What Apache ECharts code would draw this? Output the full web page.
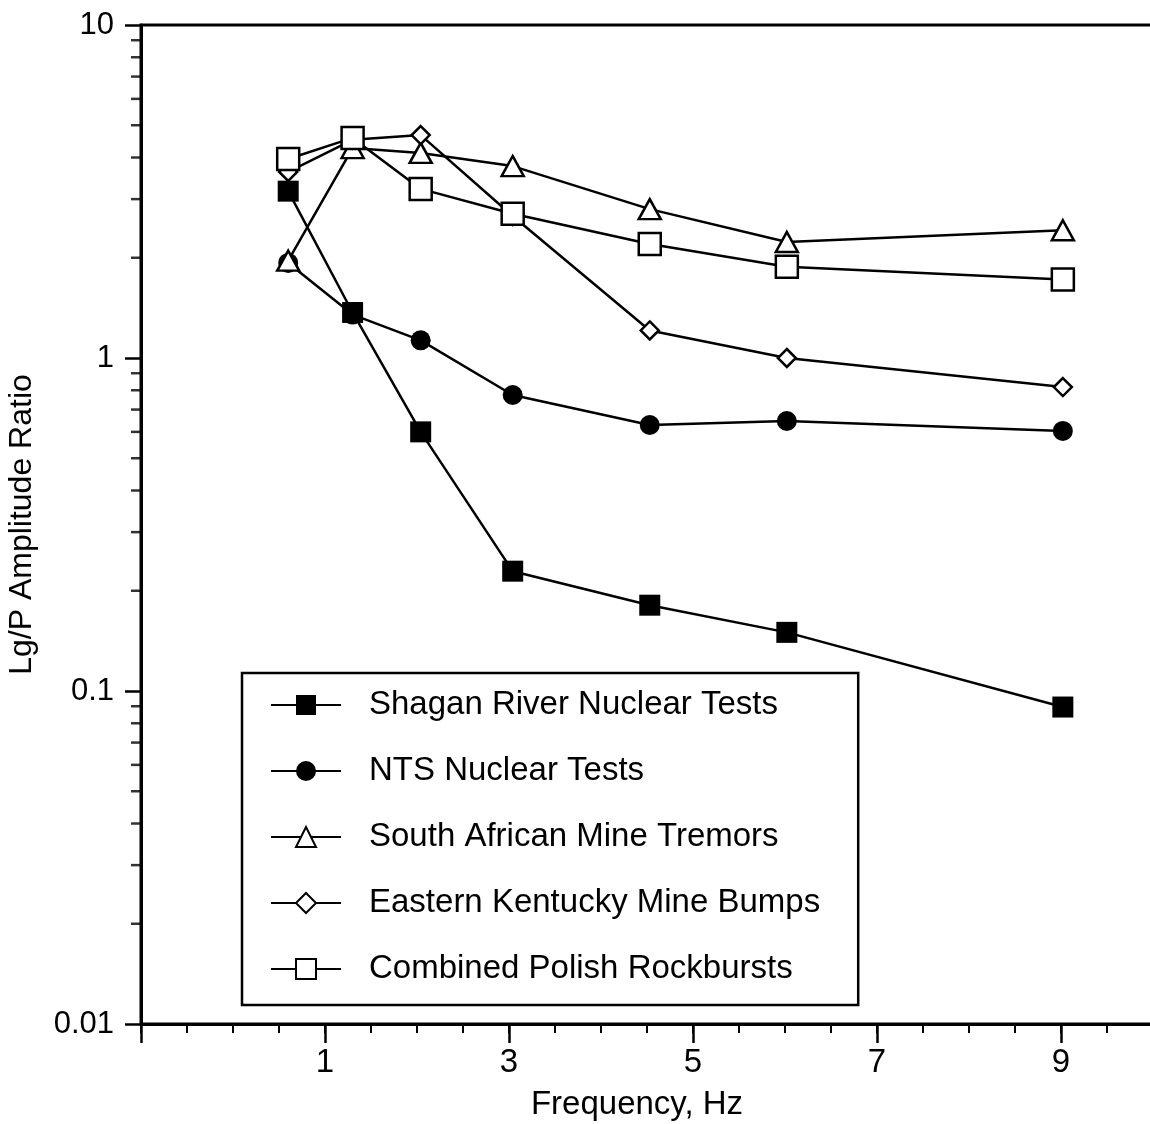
<!DOCTYPE html>
<html>
<head>
<meta charset="utf-8">
<script src="https://cdn.jsdelivr.net/npm/echarts@6/dist/echarts.min.js"></script>
<style>
  html, body { margin: 0; padding: 0; background: #fff; }
  #chart { width: 1150px; height: 1124px; }
</style>
</head>
<body>
<div id="chart"></div>
<script>
// frequencies (Hz)
var freqs = [0.6, 1.3, 2.04, 3.04, 4.53, 6.02, 9.02];

var shagan   = [3.17, 1.37, 0.60, 0.229, 0.181, 0.150, 0.0895];
var nts      = [1.93, 1.35, 1.13, 0.774, 0.629, 0.647, 0.604];
var safrica  = [1.96, 4.27, 4.13, 3.77, 2.80, 2.23, 2.42];
var kentucky = [3.62, 4.52, 4.67, 2.67, 1.21, 1.00, 0.818];
var polish   = [3.96, 4.58, 3.22, 2.71, 2.20, 1.88, 1.72];

var seriesNames = [
  'Shagan River Nuclear Tests',
  'NTS Nuclear Tests',
  'South African Mine Tremors',
  'Eastern Kentucky Mine Bumps',
  'Combined Polish Rockbursts'
];

var xLabels = [1, 3, 5, 7, 9];
var yMinorTicks = [0.02, 0.03, 0.04, 0.05, 0.06, 0.07, 0.08, 0.09,
                   0.2, 0.3, 0.4, 0.5, 0.6, 0.7, 0.8, 0.9,
                   2, 3, 4, 5, 6, 7, 8, 9];

function pairs(ys) {
  return freqs.map(function (f, i) { return [f, ys[i]]; });
}

var font = 'Liberation Sans';
var chart = echarts.init(document.getElementById('chart'));

function lineSeries(name, ys, symbol, size, fill) {
  return {
    name: name,
    type: 'line',
    data: pairs(ys),
    symbol: symbol,
    symbolSize: size,
    showAllSymbol: true,
    lineStyle: { color: '#000', width: 2.5 },
    itemStyle: { color: fill, borderColor: '#000', borderWidth: fill === '#000' ? 0 : 2.5 },
    emphasis: { disabled: true },
    z: 3
  };
}

var option = {
  backgroundColor: '#fff',
  animation: false,
  grid: {
    left: 141, top: 25, width: 1012, height: 999,
    outerBoundsMode: 'none',
    show: true, borderColor: '#000', borderWidth: 3
  },
  legend: {
    data: seriesNames,
    orient: 'vertical',
    left: 242, top: 673,
    padding: [14, 38, 18, 28],
    itemWidth: 70, itemHeight: 25, itemGap: 30,
    borderColor: '#000', borderWidth: 2.5,
    textStyle: { fontFamily: font, fontSize: 33, color: '#000', lineHeight: 36, padding: [0, 0, 0, 23] }
  },
  xAxis: [{
    type: 'value', min: -1, max: 10, interval: 0.5, position: 'bottom',
    axisLine: { onZero: false, lineStyle: { color: '#000', width: 3 } },
    axisTick: { length: 9, lineStyle: { color: '#000', width: 2 } },
    axisLabel: { show: false },
    splitLine: { show: false },
    name: 'Frequency, Hz', nameLocation: 'middle', nameGap: 64,
    nameTextStyle: { fontFamily: font, fontSize: 33, color: '#000', padding: [0, 20, 0, 0] }
  }, {
    type: 'value', min: -1, max: 10, interval: 2, position: 'bottom',
    axisLine: { show: false, onZero: false },
    axisTick: { length: 19, lineStyle: { color: '#000', width: 2.5 } },
    axisLabel: {
      margin: 22, fontFamily: font, fontSize: 33, color: '#000', showMaxLabel: false,
      formatter: function (v) { return xLabels.indexOf(v) >= 0 ? String(v) : ''; }
    },
    splitLine: { show: false }
  }],
  yAxis: {
    type: 'log', logBase: 10, min: 0.01, max: 10,
    axisLine: { onZero: false, lineStyle: { color: '#000', width: 3 } },
    axisTick: { length: 16, lineStyle: { color: '#000', width: 2.5 } },
    axisLabel: {
      margin: 27, fontFamily: font, fontSize: 31, color: '#000', padding: [0, 0, 8, 0],
      formatter: function (v) { return String(+v.toPrecision(3)); }
    },
    splitLine: { show: false },
    name: 'Lg/P Amplitude Ratio', nameLocation: 'middle', nameGap: 103,
    nameTextStyle: { fontFamily: font, fontSize: 32, color: '#000' }
  },
  series: [
    {
      name: 'minor-ticks', type: 'scatter', silent: true, clip: false,
      data: yMinorTicks.map(function (v) { return [-1, v]; }),
      symbol: 'rect', symbolSize: [10, 2.5], symbolOffset: [-5, 0],
      itemStyle: { color: '#000' }, z: 5
    },
    lineSeries(seriesNames[0], shagan, 'rect', 21, '#000'),
    lineSeries(seriesNames[1], nts, 'circle', 20, '#000'),
    lineSeries(seriesNames[2], safrica, 'triangle', [22, 20], '#fff'),
    lineSeries(seriesNames[3], kentucky, 'diamond', 18, '#fff'),
    lineSeries(seriesNames[4], polish, 'rect', 22, '#fff')
  ]
};

chart.setOption(option);
</script>
</body>
</html>
